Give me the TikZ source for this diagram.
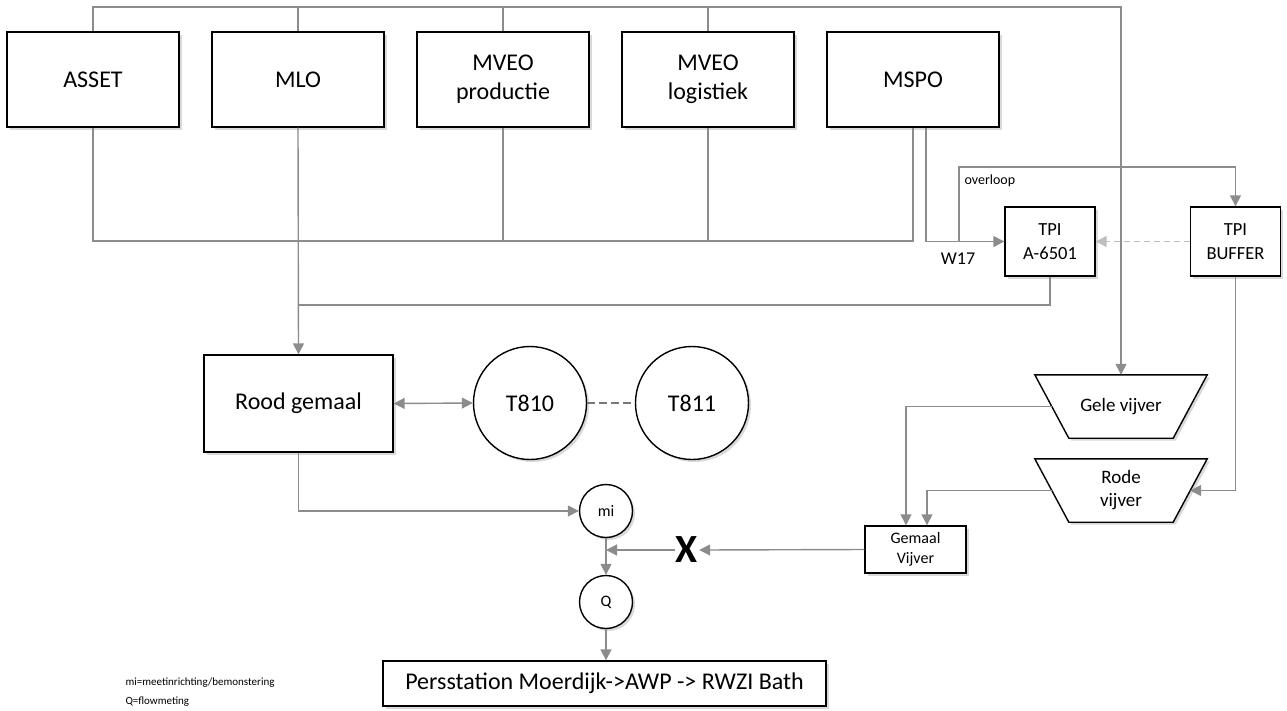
\documentclass[tikz,border=0pt]{standalone}
\usepackage{fontspec}
\setmainfont{Carlito}
\usetikzlibrary{arrows.meta,positioning,shapes.geometric,shadows,backgrounds}
\definecolor{pipegray}{RGB}{140,140,140}
\definecolor{linkgray}{RGB}{120,120,120}
\definecolor{softgray}{RGB}{190,190,190}

\begin{document}
\begin{tikzpicture}[
  x=1pt, y=-1pt,
  font=\fontsize{24}{29}\selectfont,
  shade/.style={drop shadow={shadow xshift=2.5pt, shadow yshift=-2.5pt, opacity=0.3}},
  box/.style={draw, line width=1.4pt, fill=white, align=center, inner sep=2pt, shade},
  unit/.style={box, minimum width=172pt, minimum height=95pt},
  tpi/.style={box, font=\fontsize{18.5}{24}\selectfont, minimum width=90pt, minimum height=69pt},
  tank/.style={box, circle, minimum size=113pt},
  meter/.style={box, circle, minimum size=53pt, font=\fontsize{16}{18}\selectfont},
  pond/.style={align=center, inner sep=0pt, minimum width=172pt, minimum height=63pt, font=\fontsize{19}{23}\selectfont},
  pondline/.style={line width=1.4pt, fill=white, shade},
  pipe/.style={draw=pipegray, line width=1.4pt},
  flow/.style={pipe, -{Triangle[length=11pt, width=11pt]}},
  dashflow/.style={draw=softgray, line width=1.4pt, dash pattern=on 6pt off 4pt, -{Triangle[length=11pt, width=11pt]}},
  note/.style={anchor=west, font=\fontsize{11}{11}\selectfont}
]
\useasboundingbox (0,0) rectangle (1287,710);

\node[unit] (asset) at (93,79.5) {ASSET};
\node[unit] (mlo) at (298,79.5) {MLO};
\node[unit] (mveop) at (503,79.5) {MVEO\\productie};
\node[unit] (mveol) at (708,79.5) {MVEO\\logistiek};
\node[unit] (mspo) at (913,79.5) {MSPO};

\node[tpi] (tpia) at (1050,241.5) {TPI\\A-6501};
\node[tpi] (buffer) at (1235.5,241.5) {TPI\\BUFFER};

\node[box, minimum width=189pt, minimum height=97pt] (rood) at (298.5,403.5) {Rood gemaal};
\node[tank] (t810) at (530,403) {T810};
\node[tank] (t811) at (692,403) {T811};

\node[pond] (gele) at (1121,406.5) {Gele vijver};
\node[pond] (rode) at (1121,490.5) {Rode\\vijver};
\begin{scope}[on background layer]
\foreach \p in {gele,rode}
  \draw[pondline] (\p.north west) -- (\p.north east) -- ([xshift=-34pt]\p.south east)
    -- ([xshift=34pt]\p.south west) -- cycle;
\end{scope}
\node[box, font=\fontsize{16}{20}\selectfont, minimum width=101pt, minimum height=47pt] (gemaal) at (915.5,549.5) {Gemaal\\Vijver};

\node[meter] (mi) at (606,511) {mi};
\node[meter] (q) at (606,602) {Q};
\node[font=\fontsize{40}{40}\selectfont\bfseries, inner sep=1pt] (xmark) at (687,550) {X};
\node[box, minimum width=443pt, minimum height=45pt] (pers) at (604.5,683.5) {Persstation Moerdijk->AWP -> RWZI Bath};

\node[font=\fontsize{18}{18}\selectfont] (w17lbl) at (958,259) {W17};
\node[note, font=\fontsize{14}{14}\selectfont] (ovllbl) at (961,181) {overloop};
\node[note] (legmi) at (122,683) {mi=meetinrichting/bemonstering};
\node[note] (legq) at (122,702) {Q=flowmeting};

\coordinate (topR) at (1121,7);
\coordinate (busR) at (913,241);
\coordinate (bus2) at (298,305);
\coordinate (w17) at (959,241.5);
\coordinate (ovl) at (1235.5,167);

\draw[flow] (asset.north) |- (topR) -- (gele.north);
\draw[pipe] (mlo.north) -- (mlo.north |- topR);
\draw[pipe] (mveop.north) -- (mveop.north |- topR);
\draw[pipe] (mveol.north) -- (mveol.north |- topR);

\draw[pipe] (asset.south) |- (busR) -- (mspo.south);
\draw[pipe] (mveop.south) -- (mveop.south |- busR);
\draw[pipe] (mveol.south) -- (mveol.south |- busR);
\draw[flow] (mlo.south) -- (rood.north);
\draw[flow] ([xshift=13pt]mspo.south) |- (tpia.west);
\draw[flow] (w17) |- (ovl) -- (buffer.north);
\draw[dashflow] (buffer.west) -- (tpia.east);
\draw[pipe] (tpia.south) |- (bus2);

\draw[flow, {Triangle[length=11pt, width=11pt]}-{Triangle[length=11pt, width=11pt]}] (rood.east) -- (t810.west);
\draw[draw=linkgray, line width=2.4pt, dash pattern=on 8pt off 4pt] (t810.east) -- (t811.west);

\draw[flow] (rood.south) |- (mi.west);
\draw[flow] (mi.south) -- (q.north);
\draw[flow] (q.south) -- (q.south |- pers.north);

\draw[flow] (buffer.south) |- ([xshift=-17pt]rode.east);
\draw[flow] ([xshift=17pt]gele.west) -| ([xshift=-9.5pt]gemaal.north);
\draw[flow] ([xshift=17pt]rode.west) -| ([xshift=11.5pt]gemaal.north);
\draw[flow] (gemaal.west) -- (xmark.east);
\draw[flow] (xmark.west) -- (xmark.west -| mi.south);
\end{tikzpicture}
\end{document}
